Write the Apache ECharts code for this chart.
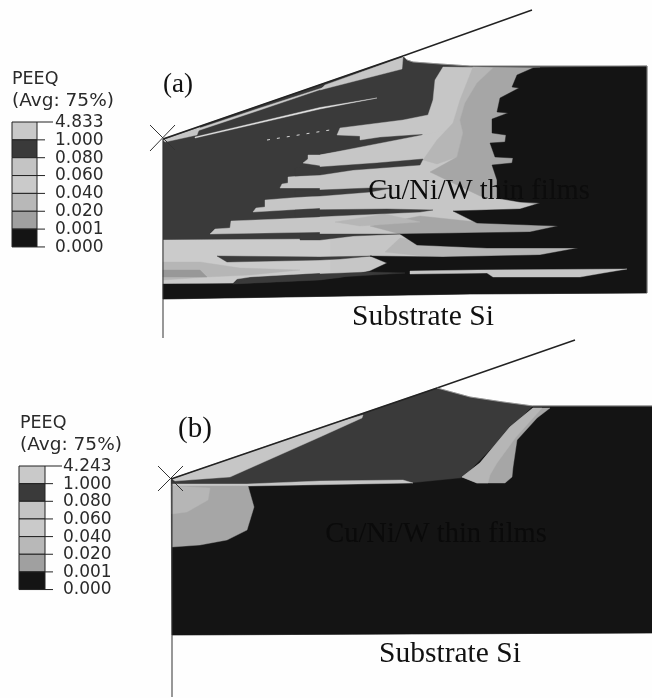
<!DOCTYPE html>
<html><head><meta charset="utf-8">
<style>html,body{margin:0;padding:0;background:#fff}#c{width:652px;height:698px;filter:blur(0.45px)}</style>
<script src="https://cdn.jsdelivr.net/npm/echarts@6/dist/echarts.min.js"></script>
</head><body><div id="c"></div>
<script>
// Legend values
const legendLabelsA = ['4.833','1.000','0.080','0.060','0.040','0.020','0.001','0.000'];
const legendLabelsB = ['4.243','1.000','0.080','0.060','0.040','0.020','0.001','0.000'];
const legendColors = ['#c9c9c9','#3a3a3a','#c4c4c4','#cacaca','#b8b8b8','#a0a0a0','#141414'];
const LIGHT='#c6c6c6', PALE='#cbcbcb', MID='#b6b6b6', GRAY='#a6a6a6', DEEP='#989898', DARK='#3a3a3a', BLACK='#141414', WHITE='#e4e4e4';

// Contour regions of panel (a)
const aBody = [[163,139],[403,56],[407,60],[413,62],[440,64],[470,66],[647,66],[647,293],[470,294],[163,299]];
const aBlobTop = [[443,67],[435,80],[433,100],[428,115],[403,120],[340,128],[337,135],[360,136],[360,140],[380,137],[423,134],[417,142],[370,147],[320,155],[308,155],[308,159],[303,163],[330,167],[400,162],[500,120],[540,68]];
const aBlobLow = [[320,155],[500,120],[590,200],[590,265],[320,275]];
const aMid = [[473,67],[493,68],[477,83],[465,103],[460,120],[463,133],[457,157],[437,164],[423,160],[437,140],[453,123],[460,100]];
const aGray = [[493,68],[540,68],[540,205],[480,196],[430,172],[457,157],[463,133],[460,120],[465,103],[477,83]];
const aStripeGrayB = [[420,216],[477,222],[560,226],[530,233],[400,234],[370,226]];
const aStripeGrayC = [[400,238],[450,245],[580,248],[540,256],[440,258],[385,252]];
const aStripe2 = [[280,188],[282,184],[288,183],[288,177],[300,176],[320,174],[330,174],[330,188]];
const aStripe3 = [[253,212],[256,208],[265,207],[265,200],[290,198],[320,196],[330,196],[330,208],[320,208]];
const aStripe4 = [[210,234],[215,229],[230,228],[231,221],[280,219],[320,217],[330,217],[330,232],[320,232]];
const aBand = [[163,240],[320,239],[330,239],[330,273],[320,273],[250,277],[237,279],[233,283],[163,284]];
const aBandMid = [[163,262],[200,262],[240,268],[300,270],[250,275],[207,277],[163,280]];
const aBandDeep = [[163,270],[200,270],[207,277],[163,277]];
const aStreak1 = [[385,214],[420,222],[360,226],[335,222]];
const aDark2 = [[295,168],[320,167],[377,163],[423,159],[420,165],[353,170],[320,175],[295,176]];
const aDark3 = [[295,190],[320,190],[370,188],[392,188],[370,192],[320,196],[295,196]];
const aDark4 = [[295,210],[387,209],[433,210],[420,212],[353,215],[310,217],[295,217]];
const aDark5 = [[300,234],[400,234],[353,236],[320,240],[300,240]];
const aDark6 = [[217,256],[320,257],[372,256],[340,259],[320,260],[227,262]];
const aBlack = [[533,68],[517,75],[512,87],[519,88],[500,98],[497,112],[508,113],[492,119],[492,133],[506,135],[505,142],[490,143],[495,157],[513,158],[512,163],[492,165],[497,180],[497,198],[520,202],[540,203],[520,209],[453,211],[477,223],[558,226],[530,232],[400,234],[417,245],[487,248],[578,248],[540,255],[443,257],[370,256],[387,263],[370,271],[340,278],[320,280],[233,284],[163,284],[163,299],[470,294],[647,293],[647,66]];
const aStripeD = [[410,271],[477,270],[627,269],[603,273],[580,277],[493,277],[487,273],[410,274]];
const aSliver = [[233,284],[250,278],[320,274],[370,272],[405,273],[340,277],[320,280]];
const aTopWedge = [[325,85],[403,57],[402,69],[320,90]];
const aApexWedge = [[163,140],[200,127],[197,135],[165,142]];
const aLine1 = [[195,137],[320,107.5],[377,98],[320,109],[195,138]];
const aLine2 = [[197,129],[260,108],[325,87],[325,88],[260,110],[197,131]];

// Contour regions of panel (b)
const bBody = [[171,479],[437,388],[470,397],[503,402],[533,406],[652,406],[652,633],[172,635]];
const bBlack = [[172,486],[248,486],[413,483],[463,478],[533,406],[652,406],[652,633],[172,635]];
const bLightWedge = [[172,479],[330,424],[363,415],[362,418],[320,437],[230,477],[175,481]];
const bThin = [[172,484],[247,484],[320,481],[403,480],[413,483],[248,486],[172,487]];
const bBlobGray = [[172,486],[248,486],[254,507],[247,530],[227,540],[200,545],[172,547]];
const bBlobLight = [[172,486],[210,488],[208,500],[187,512],[172,514]];
const bStripeGray = [[533,408],[550,408],[537,418],[517,440],[513,467],[512,477],[505,483],[477,483],[462,477],[480,463],[510,427]];
const bStripeLight = [[533,408],[542,408],[516,437],[497,463],[490,475],[488,483],[477,483],[462,477],[480,463],[510,427]];

const regions = [
  [aBody,DARK],[aBlobTop,LIGHT],[aBlobLow,LIGHT],[aMid,MID],[aGray,GRAY],[aStripeGrayB,GRAY],[aStripeGrayC,MID],
  [aStripe2,LIGHT],[aStripe3,LIGHT],[aStripe4,LIGHT],[aBand,PALE],[aBandMid,MID],[aBandDeep,DEEP],[aStreak1,MID],
  [aDark2,DARK],[aDark3,DARK],[aDark4,DARK],[aDark5,DARK],[aDark6,DARK],
  [aBlack,BLACK],[aStripeD,LIGHT],[aSliver,DARK],[aTopWedge,LIGHT],[aApexWedge,LIGHT],[aLine1,WHITE],[aLine2,PALE],
  [bBody,DARK],[bBlack,BLACK],[bLightWedge,LIGHT],[bThin,LIGHT],[bBlobGray,GRAY],[bBlobLight,MID],[bStripeGray,GRAY],[bStripeLight,MID]
];

// Outline strokes
const aOutline = [[163,139],[403,56],[532,10]];
const aAxis = [[163,139],[163,338]];
const aCross1 = [[150,125],[175,150]];
const aCross2 = [[150,151],[175,125]];
const aSurface = [[403,56],[407,60],[413,62],[440,64],[470,66],[647,66],[647,293]];
const aDots = [[267,140],[330,130]];
const bOutline = [[171,479],[437,388],[575,340]];
const bAxis = [[172,479],[172,697]];
const bCross1 = [[158,466],[183,491]];
const bCross2 = [[158,491],[183,466]];
const bSurface = [[437,388],[470,397],[503,402],[533,406],[652,406]];
const strokes = [
  [aOutline,'#222',1.4,null],[aAxis,'#333',1,null],[aCross1,'#333',1,null],[aCross2,'#333',1,null],[aSurface,'#999',0.8,null],
  [aDots,'#d8d8d8',1,[3,7]],
  [bOutline,'#222',1.4,null],[bAxis,'#333',1,null],[bCross1,'#333',1,null],[bCross2,'#333',1,null],[bSurface,'#999',0.8,null]
];

// Text
const serif='"Liberation Serif"', sans='"DejaVu Sans"';
const texts = [
  ['PEEQ',12,79,sans,17.5,'#2a2a2a','left'],['(Avg: 75%)',12,101,sans,18.5,'#2a2a2a','left'],
  ['PEEQ',20,423,sans,17.5,'#2a2a2a','left'],['(Avg: 75%)',20,445,sans,18.5,'#2a2a2a','left'],
  ['(a)',178,85,serif,27,'#111','center'],['(b)',195,429,serif,29,'#111','center'],
  ['Cu/Ni/W thin films',479,192,serif,28.5,'#0c0c0c','center'],['Cu/Ni/W thin films',436,535,serif,28.5,'#0a0a0a','center'],
  ['Substrate Si',423,317,serif,29.5,'#111','center'],['Substrate Si',450,654,serif,29.5,'#111','center']
];

const legends = [
  {labels:legendLabelsA,x0:12,x1:37,top:122,step:17.85,tick:45,tick0:53,lx:55},
  {labels:legendLabelsB,x0:19,x1:45,top:466,step:17.65,tick:53,tick0:62,lx:63}
];

const chart = echarts.init(document.getElementById('c'),null,{renderer:'canvas'});
const poly = (pts,api) => pts.map(p=>api.coord(p));
const legendRows=[];
legends.forEach((l,li)=>l.labels.forEach((t,i)=>legendRows.push([li,i])));
chart.setOption({
  animation:false,
  backgroundColor:'#fefefe',
  grid:{left:0,right:0,top:0,bottom:0},
  xAxis:{type:'value',min:0,max:652,show:false},
  yAxis:{type:'value',min:0,max:698,inverse:true,show:false},
  tooltip:{show:false},
  series:[
    {type:'custom',silent:true,clip:false,data:regions.map((r,i)=>[i]),encode:{x:0},
     renderItem:(p,api)=>{const r=regions[api.value(0)];return {type:'polygon',shape:{points:poly(r[0],api)},style:{fill:r[1],stroke:r[1],lineWidth:0.4}};}},
    {type:'custom',silent:true,clip:false,data:strokes.map((r,i)=>[i]),encode:{x:0},z:3,
     renderItem:(p,api)=>{const r=strokes[api.value(0)];return {type:'polyline',shape:{points:poly(r[0],api)},style:{fill:null,stroke:r[1],lineWidth:r[2],lineDash:r[3]||undefined}};}},
    {type:'custom',silent:true,clip:false,data:legendRows,encode:{x:0},z:4,
     renderItem:(p,api)=>{
       const l=legends[api.value(0)],i=api.value(1),y=l.top+i*l.step;
       const ch=[];
       if(i<7){const a=api.coord([l.x0,y]),b=api.coord([l.x1,y+l.step]);
         ch.push({type:'rect',shape:{x:a[0],y:a[1],width:b[0]-a[0],height:b[1]-a[1]},style:{fill:legendColors[i],stroke:'#222',lineWidth:1}});}
       const t0=api.coord([l.x1,y]),t1=api.coord([i===0?l.tick0:l.tick,y]);
       ch.push({type:'line',shape:{x1:t0[0],y1:t0[1],x2:t1[0],y2:t1[1]},style:{stroke:'#222',lineWidth:1}});
       const q=api.coord([l.lx,y]);
       ch.push({type:'text',x:q[0],y:q[1]+0.5,style:{text:l.labels[i],font:'17px '+sans,fill:'#2a2a2a',textAlign:'left',textVerticalAlign:'middle'}});
       return {type:'group',children:ch};
     }},
    {type:'custom',silent:true,clip:false,data:texts.map((r,i)=>[i]),encode:{x:0},z:5,
     renderItem:(p,api)=>{const t=texts[api.value(0)],q=api.coord([t[1],t[2]]);
       return {type:'text',x:q[0],y:q[1],style:{text:t[0],font:t[4]+'px '+t[3],fill:t[5],textAlign:t[6],textVerticalAlign:'middle'}};}}
  ]
});
</script></body></html>
